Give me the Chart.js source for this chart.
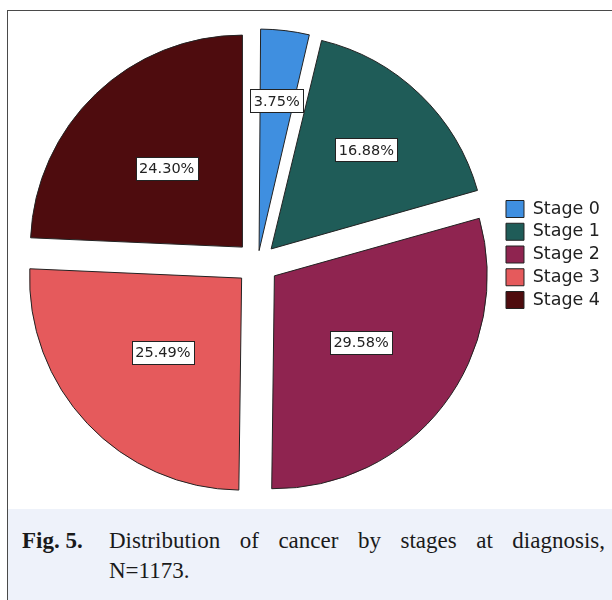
<!DOCTYPE html>
<html>
<head>
<meta charset="utf-8">
<script src="https://cdn.jsdelivr.net/npm/chart.js@4.4.1/dist/chart.umd.min.js"></script>
<style>
  html, body { margin: 0; padding: 0; background: #fff; }
  body { width: 612px; height: 600px; overflow: hidden; position: relative; }
  #frame { position: absolute; left: 7px; top: 10px; width: 640px; height: 640px; border: 1px solid #4a4a4a; box-sizing: border-box; }
  #chartBox { position: absolute; left: 8px; top: 11px; width: 604px; height: 498px; }
  #caption { position: absolute; left: 8px; top: 509px; width: 604px; height: 91px; background: #eef2fa;
             font-family: "Liberation Serif", serif; font-size: 23px; color: #1a1a1a; }
  #caption .fig { position: absolute; left: 14px; top: 17px; line-height: 30px; font-weight: bold; }
  #caption .txt { position: absolute; left: 101px; top: 17px; width: 496px; line-height: 30px; }
  #caption .l1 { text-align: justify; text-align-last: justify; }
</style>
</head>
<body>
<div id="frame"></div>
<div id="chartBox"><canvas id="pie"></canvas></div>
<div id="caption">
  <span class="fig">Fig. 5.</span>
  <div class="txt">
    <div class="l1">Distribution of cancer by stages at diagnosis,</div>
    <div>N=1173.</div>
  </div>
</div>
<script>
  // values
  const stages = ['Stage 0', 'Stage 1', 'Stage 2', 'Stage 3', 'Stage 4'];
  const shares = [3.75, 16.88, 29.58, 25.49, 24.30];
  const stageColors = ['#3f8fe0', '#1f5c58', '#8f2450', '#e55a5c', '#4e0c0e'];

  const total = shares.reduce((a, b) => a + b, 0);
  const explode = 22; // px every slice is pulled out

  // Chart.js moves an arc by offset/4 * (1 + fix), undo that so all gaps match
  function sliceOffset(c) {
    const circ = shares[c.dataIndex] / total * Math.PI * 2;
    const fix = 1 - Math.sin(Math.min(Math.PI, circ));
    return 4 * explode / (1 + fix);
  }

  // boxed percentage labels, placed along each slice's bisector
  const labelBoxes = {
    id: 'labelBoxes',
    afterDatasetsDraw(chart, args, opts) {
      const ctx = chart.ctx;
      const meta = chart.getDatasetMeta(0);
      ctx.save();
      ctx.font = opts.font;
      ctx.textAlign = 'center';
      ctx.textBaseline = 'middle';
      meta.data.forEach((arc, i) => {
        const p = arc.getProps(['x', 'y', 'startAngle', 'endAngle', 'outerRadius'], true);
        const mid = (p.startAngle + p.endAngle) / 2;
        const d = p.outerRadius * opts.distance[i];
        const x = p.x + Math.cos(mid) * d;
        const y = p.y + Math.sin(mid) * d;
        const text = shares[i].toFixed(2) + '%';
        const w = Math.round(ctx.measureText(text).width + opts.padX * 2);
        const h = opts.height;
        const bx = Math.round(x - w / 2) + 0.5;
        const by = Math.round(y - h / 2) + 0.5;
        ctx.fillStyle = '#ffffff';
        ctx.fillRect(bx, by, w, h);
        ctx.strokeStyle = '#222';
        ctx.lineWidth = 1;
        ctx.strokeRect(bx, by, w, h);
        ctx.fillStyle = '#222';
        ctx.fillText(text, x, y + 1);
      });
      ctx.restore();
    }
  };

  new Chart(document.getElementById('pie'), {
    type: 'pie',
    data: {
      labels: stages,
      datasets: [{
        data: shares,
        backgroundColor: stageColors,
        borderColor: '#222',
        borderWidth: 1,
        offset: sliceOffset,
        hoverOffset: 0
      }]
    },
    options: {
      responsive: true,
      maintainAspectRatio: false,
      animation: false,
      events: [],
      radius: 212,
      layout: { padding: { top: 6, bottom: 0, left: 6.5, right: 2 } },
      plugins: {
        tooltip: { enabled: false },
        legend: {
          position: 'right',
          align: 'start',
          // empty title only used to push the legend rows down
          title: { display: true, text: ' ', font: { size: 10 }, padding: { top: 166, bottom: 0 } },
          labels: {
            boxWidth: 18,
            boxHeight: 17,
            padding: 5.25,
            color: '#222',
            font: { family: 'DejaVu Sans', size: 17.5 }
          }
        },
        labelBoxes: {
          font: '14.5px "DejaVu Sans"',
          padX: 3.5,
          height: 23,
          distance: [0.77, 0.74, 0.615, 0.615, 0.62]
        }
      }
    },
    plugins: [labelBoxes]
  });
</script>
</body>
</html>
